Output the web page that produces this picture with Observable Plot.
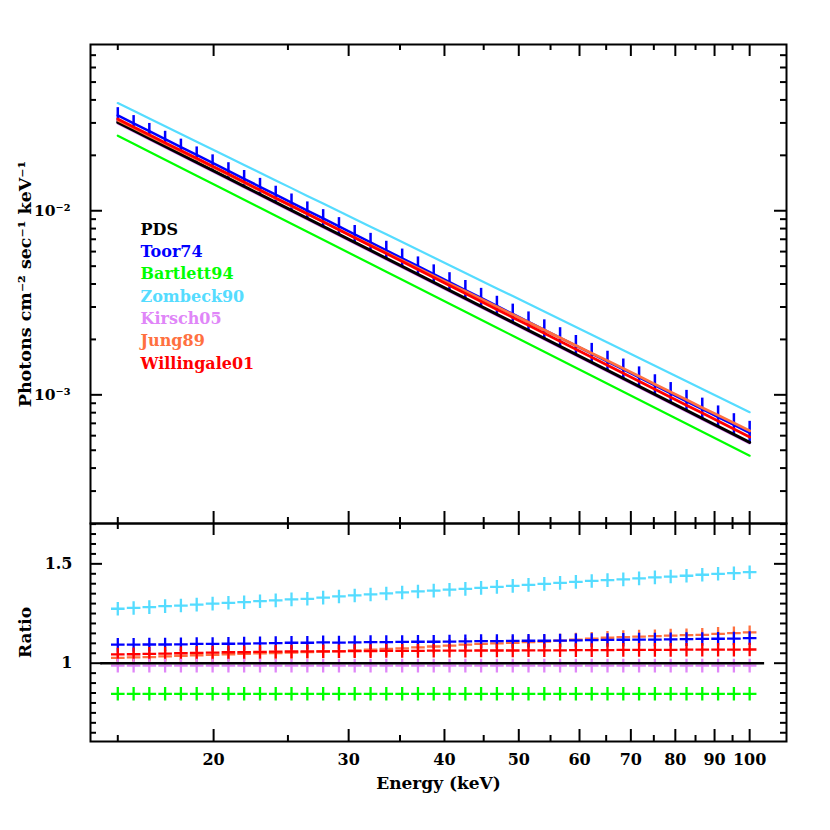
<!DOCTYPE html>
<html><head><meta charset="utf-8">
<script src="https://cdn.jsdelivr.net/npm/d3@7"></script>
<script src="https://cdn.jsdelivr.net/npm/@observablehq/plot@0.6"></script>
<style>
html,body{margin:0;padding:0;background:#fff;}
#chart{width:830px;height:830px;position:relative;}
#chart svg{display:block;overflow:visible;background:transparent;}
</style></head><body><div id="chart"></div>
<script>
// ---------- data ----------
const energy = [15.00,15.73,16.49,17.29,18.13,19.01,19.94,20.91,21.92,22.99,24.10,25.27,26.50,27.79,29.14,30.55,32.04,33.59,35.23,36.94,38.73,40.61,42.59,44.65,46.82,49.10,51.48,53.98,56.60,59.35,62.24,65.26,68.43,71.75,75.24,78.89,82.73,86.74,90.96,95.38,100.00];
const pdsFlux = [0.03020,0.02732,0.02472,0.02237,0.02024,0.01831,0.01657,0.01499,0.01356,0.01227,0.01110,0.010045,0.009088,0.008223,0.007440,0.006731,0.006090,0.005510,0.004985,0.004511,0.004081,0.003693,0.003341,0.003023,0.002735,0.002475,0.002239,0.002026,0.001833,0.001658,0.001500,0.001357,0.001228,0.001111,0.001005,0.000910,0.000823,0.000745,0.000674,0.000610,0.000552];
const ratioToor74 = [1.093,1.093,1.094,1.094,1.095,1.097,1.097,1.098,1.099,1.100,1.101,1.103,1.103,1.105,1.104,1.105,1.106,1.106,1.107,1.108,1.108,1.109,1.110,1.111,1.111,1.112,1.113,1.113,1.114,1.115,1.116,1.117,1.118,1.119,1.119,1.120,1.121,1.122,1.123,1.124,1.126];
const errToor74 = [0.100,0.101,0.102,0.104,0.105,0.106,0.107,0.108,0.110,0.111,0.112,0.113,0.114,0.116,0.117,0.118,0.119,0.120,0.122,0.123,0.124,0.125,0.127,0.128,0.129,0.130,0.132,0.133,0.134,0.136,0.137,0.138,0.140,0.141,0.143,0.144,0.146,0.148,0.150,0.152,0.155];
const ratioBartlett94 = [0.846,0.846,0.846,0.846,0.846,0.846,0.846,0.846,0.846,0.846,0.846,0.846,0.846,0.846,0.846,0.846,0.846,0.846,0.846,0.846,0.846,0.846,0.846,0.846,0.846,0.846,0.846,0.846,0.846,0.846,0.846,0.846,0.846,0.846,0.846,0.846,0.846,0.846,0.846,0.846,0.846];
const ratioZombeck90 = [1.274,1.278,1.282,1.287,1.290,1.295,1.300,1.304,1.307,1.312,1.316,1.321,1.324,1.330,1.336,1.341,1.346,1.351,1.356,1.361,1.365,1.370,1.374,1.379,1.384,1.389,1.394,1.399,1.404,1.409,1.414,1.418,1.422,1.427,1.432,1.436,1.440,1.445,1.450,1.453,1.458];
const ratioKirsch05 = [0.988,0.988,0.988,0.988,0.988,0.988,0.988,0.988,0.988,0.988,0.988,0.988,0.988,0.988,0.988,0.988,0.988,0.988,0.988,0.988,0.988,0.988,0.988,0.988,0.988,0.988,0.988,0.988,0.988,0.988,0.988,0.988,0.988,0.988,0.988,0.988,0.988,0.988,0.988,0.988,0.988];
const ratioJung89 = [1.027,1.029,1.031,1.034,1.037,1.040,1.042,1.045,1.047,1.049,1.051,1.053,1.056,1.059,1.061,1.064,1.068,1.072,1.075,1.080,1.084,1.088,1.093,1.097,1.100,1.103,1.106,1.109,1.114,1.119,1.123,1.128,1.131,1.134,1.136,1.139,1.141,1.143,1.148,1.151,1.155];
const ratioWillingale01 = [1.044,1.045,1.047,1.048,1.050,1.052,1.053,1.055,1.055,1.057,1.058,1.059,1.060,1.060,1.060,1.061,1.061,1.062,1.062,1.062,1.063,1.063,1.063,1.064,1.064,1.064,1.065,1.065,1.065,1.066,1.066,1.066,1.067,1.067,1.067,1.067,1.068,1.068,1.068,1.068,1.069];
const ratioPDS = [1,1,1,1,1,1,1,1,1,1,1,1,1,1,1,1,1,1,1,1,1,1,1,1,1,1,1,1,1,1,1,1,1,1,1,1,1,1,1,1,1];

const seriesNames = ["PDS","Toor74","Bartlett94","Zombeck90","Kirsch05","Jung89","Willingale01"];
const seriesColors = ["#000000","#0000ff","#00ff00","#55dcff","#e086f8","#ff7040","#ff0000"];
const seriesRatios = [ratioPDS,ratioToor74,ratioBartlett94,ratioZombeck90,ratioKirsch05,ratioJung89,ratioWillingale01];

const xMajor = [20,30,40,50,60,70,80,90,100];
const xMinor = [15,25,35,45,55,65,75,85,95];
const yTopMajor = [1e-3,1e-2];
const yTopMinor = [3e-4,4e-4,5e-4,6e-4,7e-4,8e-4,9e-4,2e-3,3e-3,4e-3,5e-3,6e-3,7e-3,8e-3,9e-3,2e-2,3e-2,4e-2,5e-2,6e-2,7e-2];
const yTopLabels = {"0.001":"10\u207B\u00B3","0.01":"10\u207B\u00B2"};
const yBotMajor = [1,1.5];
const yBotMinor = [0.65,0.7,0.75,0.8,0.85,0.9,0.95,1.05,1.1,1.15,1.2,1.25,1.3,1.35,1.4,1.45,1.55,1.6,1.65,1.7];
const xDomain = [13.82,111.7];
const yTopDomain = [2e-4,0.08];
const yBotDomain = [0.606,1.703];
const refLineRange = [14.25,104.6];

// ---------- tables ----------
const series = seriesNames.map((name,k)=>({name,color:seriesColors[k],rows:energy.map((e,i)=>({
  energy:e, ratio:seriesRatios[k][i], flux:pdsFlux[i]*seriesRatios[k][i]}))}));
const byName = Object.fromEntries(series.map(s=>[s.name,s]));
const toorBars = energy.map((e,i)=>{const f=pdsFlux[i]*ratioToor74[i];return {energy:e,lo:f/(1+errToor74[i]),hi:f*(1+errToor74[i])};});

// ---------- layout ----------
const W=830, mL=90, mR=44, topH=523, mT=44, botH=307, botPlotH=218;
const topPlotH = topH-mT, plotW = W-mL-mR;
const font = {fontFamily:"'DejaVu Serif', serif", fontWeight:"bold", fontSize:"16px", background:"transparent", overflow:"visible"};
const ink = {stroke:"black", strokeWidth:2};

function frameTicks(H, xs, ys){
  const m=[];
  for (const [vals,len] of [[xs[0],12],[xs[1],6]]) {
    m.push(Plot.tickX(vals,{x:d=>d, insetTop:H-len, ...ink}));
    m.push(Plot.tickX(vals,{x:d=>d, insetBottom:H-len, ...ink}));
  }
  for (const [vals,len] of [[ys[0],12],[ys[1],6]]) {
    m.push(Plot.tickY(vals,{y:d=>d, insetRight:plotW-len, ...ink}));
    m.push(Plot.tickY(vals,{y:d=>d, insetLeft:plotW-len, ...ink}));
  }
  return m;
}

const thinPlus = {draw(ctx,size){const r=Math.sqrt(size/Math.PI);ctx.moveTo(-r,0);ctx.lineTo(r,0);ctx.moveTo(0,-r);ctx.lineTo(0,r);}};

const topOrder = ["Zombeck90","Toor74","Bartlett94","Kirsch05","PDS","Jung89","Willingale01"];
const lineWidths = {PDS:3,Toor74:2.5,Bartlett94:2.2,Zombeck90:2.2,Kirsch05:2.5,Jung89:2.8,Willingale01:2.8};

const topPlot = Plot.plot({
  width:W, height:topH, marginLeft:mL, marginRight:mR, marginTop:mT, marginBottom:0,
  style:font,
  x:{type:"log", domain:xDomain, axis:null},
  y:{type:"log", domain:yTopDomain},
  marks:[
    Plot.ruleX(toorBars,{x:"energy", y1:"lo", y2:"hi", stroke:byName.Toor74.color, strokeWidth:2.5}),
    ...topOrder.map(n=>Plot.line(byName[n].rows,{x:"energy", y:"flux", stroke:byName[n].color, strokeWidth:lineWidths[n]})),
    Plot.frame(ink),
    ...frameTicks(topPlotH,[xMajor,xMinor],[yTopMajor,yTopMinor]),
    Plot.axisY({ticks:yTopMajor, tickFormat:d=>yTopLabels[String(d)], tickSize:0, tickPadding:20, label:null, fontSize:15.5}),
    ...series.map((s,i)=>Plot.text([s.name],{frameAnchor:"top-left", dx:50, dy:179+22.3*i, textAnchor:"start", fill:s.color, fontSize:16, fontWeight:"bold"})),
    Plot.text(["Photons cm\u207B\u00B2 sec\u207B\u00B9 keV\u207B\u00B9"],{frameAnchor:"left", dx:-65, rotate:-90, textAnchor:"middle", fontSize:17.5, fontWeight:"bold"})
  ]
});

const botOrder = ["Zombeck90","Bartlett94","Jung89","Toor74","Willingale01","Kirsch05"];
const botPlot = Plot.plot({
  width:W, height:botH, marginLeft:mL, marginRight:mR, marginTop:0, marginBottom:botH-botPlotH,
  style:font,
  x:{type:"log", domain:xDomain},
  y:{domain:yBotDomain},
  marks:[
    ...botOrder.map(n=>Plot.dot(byName[n].rows,{x:"energy", y:"ratio", symbol:thinPlus, r:6.8, stroke:byName[n].color, strokeWidth:2.3, fill:"none"})),
    Plot.ruleY([1],{x1:refLineRange[0], x2:refLineRange[1], stroke:"black", strokeWidth:2.5}),
    Plot.frame(ink),
    ...frameTicks(botPlotH,[xMajor,xMinor],[yBotMajor,yBotMinor]),
    Plot.axisX({ticks:xMajor, tickFormat:d=>String(d), tickSize:0, tickPadding:12, label:null, fontSize:16}),
    Plot.axisY({ticks:yBotMajor, tickFormat:d=>String(d), tickSize:0, tickPadding:18, label:null, fontSize:16}),
    Plot.text(["Energy (keV)"],{frameAnchor:"bottom", dy:47, fontSize:17, fontWeight:"bold"}),
    Plot.text(["Ratio"],{frameAnchor:"left", dx:-65, rotate:-90, textAnchor:"middle", fontSize:17, fontWeight:"bold"})
  ]
});

const root = document.getElementById("chart");
root.appendChild(topPlot);
root.appendChild(botPlot);
</script></body></html>
